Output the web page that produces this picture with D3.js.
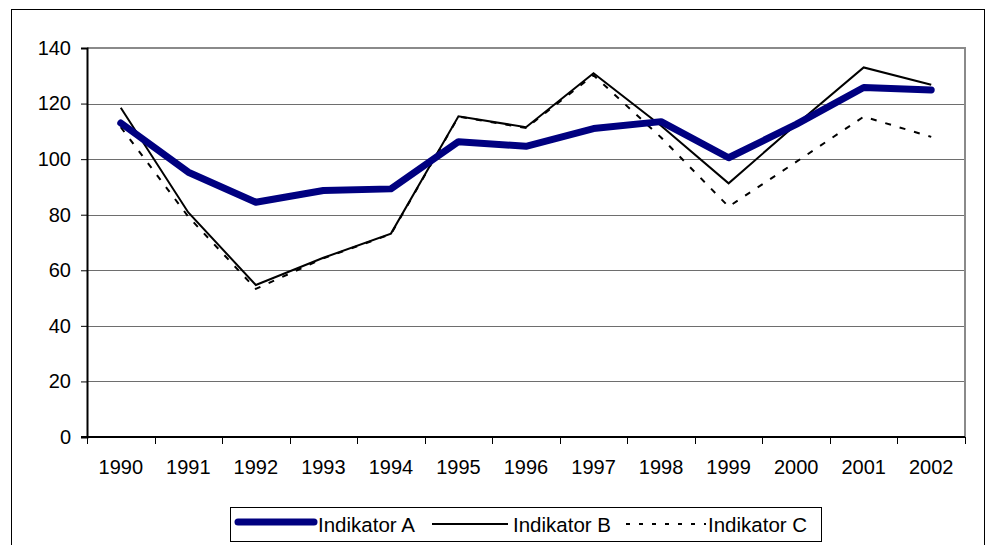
<!DOCTYPE html>
<html><head><meta charset="utf-8">
<script src="https://cdn.jsdelivr.net/npm/d3@7"></script>
<style>
html,body{margin:0;padding:0;background:#fff;}
svg{display:block;font-family:"Liberation Sans",Arial,sans-serif;}
</style></head>
<body>
<svg id="chart" width="986" height="545"></svg>
<script>
const years = ["1990","1991","1992","1993","1994","1995","1996","1997","1998","1999","2000","2001","2002"];
const indikatorA = [113, 95.3, 84.5, 88.7, 89.3, 106.3, 104.6, 111, 113.5, 100.5, 112.5, 125.8, 124.9];
const indikatorB = [118.5, 80.8, 54.7, 64.5, 73.2, 115.4, 111.5, 130.9, 112, 91.3, 112.5, 133, 126.8];
const indikatorC = [111.5, 79.3, 53.3, 64.3, 73, 115.3, 111.2, 130.2, 107.8, 82.9, 99, 115.3, 108];
const yTicks = [0, 20, 40, 60, 80, 100, 120, 140];
const seriesNames = ["Indikator A", "Indikator B", "Indikator C"];

const svg = d3.select("#chart");
const L = 87, R = 965, T = 48, B = 437;

// outer frame
svg.append("rect").attr("x", 11.5).attr("y", 9.5).attr("width", 973).attr("height", 560)
  .attr("fill", "none").attr("stroke", "#000").attr("stroke-width", 1);

const x = d3.scaleBand().domain(years).range([L, R]).padding(0);
const y = d3.scaleLinear().domain([0, 140]).range([B, T]);

// gridlines
svg.append("g").selectAll("line").data(yTicks.filter(d => d > 0 && d < 140)).join("line")
  .attr("x1", L).attr("x2", R)
  .attr("y1", d => Math.round(y(d)) + 0.5).attr("y2", d => Math.round(y(d)) + 0.5)
  .attr("stroke", "#6e6e6e").attr("stroke-width", 1);

// plot border top/right (gray)
svg.append("path")
  .attr("d", `M${L},${T} H${R} V${B}`)
  .attr("fill", "none").attr("stroke", "#8a8a8a").attr("stroke-width", 2);

// y axis
const yAxis = d3.axisLeft(y).tickValues(yTicks).tickSize(6).tickPadding(10);
const gy = svg.append("g").attr("transform", `translate(${L},0)`).call(yAxis);
gy.select(".domain").attr("stroke", "#000").attr("stroke-width", 2);
gy.selectAll(".tick line").attr("stroke", "#000").attr("stroke-width", 1);
gy.selectAll(".tick text").attr("font-size", 20).attr("fill", "#000")
  .attr("font-family", "Liberation Sans, Arial, sans-serif");

// x axis: ticks at category boundaries
const gx = svg.append("g").attr("transform", `translate(0,${B})`);
gx.append("line").attr("x1", L - 6).attr("x2", R).attr("y1", 0).attr("y2", 0)
  .attr("stroke", "#000").attr("stroke-width", 2);
const bounds = years.map(d => x(d)).concat([x(years[years.length - 1]) + x.bandwidth()]);
gx.selectAll("line.tk").data(bounds).join("line").attr("class", "tk")
  .attr("x1", d => Math.round(d) + 0.5).attr("x2", d => Math.round(d) + 0.5)
  .attr("y1", 0).attr("y2", 7).attr("stroke", "#000").attr("stroke-width", 1);
gx.selectAll("text").data(years).join("text")
  .attr("x", d => x(d) + x.bandwidth() / 2).attr("y", 37)
  .attr("text-anchor", "middle").attr("font-size", 20).attr("fill", "#000")
  .text(d => d);

// lines
const line = d3.line().x((d, i) => x(years[i]) + x.bandwidth() / 2).y(d => y(d));
svg.append("path").datum(indikatorC).attr("d", line)
  .attr("fill", "none").attr("stroke", "#000").attr("stroke-width", 2)
  .attr("stroke-dasharray", "6,9");
svg.append("path").datum(indikatorB).attr("d", line)
  .attr("fill", "none").attr("stroke", "#000").attr("stroke-width", 2);
svg.append("path").datum(indikatorA).attr("d", line)
  .attr("fill", "none").attr("stroke", "#000080").attr("stroke-width", 7)
  .attr("stroke-linejoin", "round").attr("stroke-linecap", "round");

// legend
const lg = svg.append("g");
lg.append("rect").attr("x", 230.5).attr("y", 507.5).attr("width", 591).attr("height", 34)
  .attr("fill", "#fff").attr("stroke", "#000").attr("stroke-width", 1);
const ly = 522;
lg.append("line").attr("x1", 238).attr("x2", 314).attr("y1", ly).attr("y2", ly)
  .attr("stroke", "#000080").attr("stroke-width", 7).attr("stroke-linecap", "round");
lg.append("line").attr("x1", 432).attr("x2", 508).attr("y1", ly + 2).attr("y2", ly + 2)
  .attr("stroke", "#000").attr("stroke-width", 2);
lg.append("line").attr("x1", 626).attr("x2", 706).attr("y1", ly + 2).attr("y2", ly + 2)
  .attr("stroke", "#000").attr("stroke-width", 2).attr("stroke-dasharray", "4,9");
const lx = [318, 513, 708];
lg.selectAll("text").data(seriesNames).join("text")
  .attr("x", (d, i) => lx[i]).attr("y", 532).attr("font-size", 20.5).attr("fill", "#000")
  .text(d => d);
</script>
</body></html>
